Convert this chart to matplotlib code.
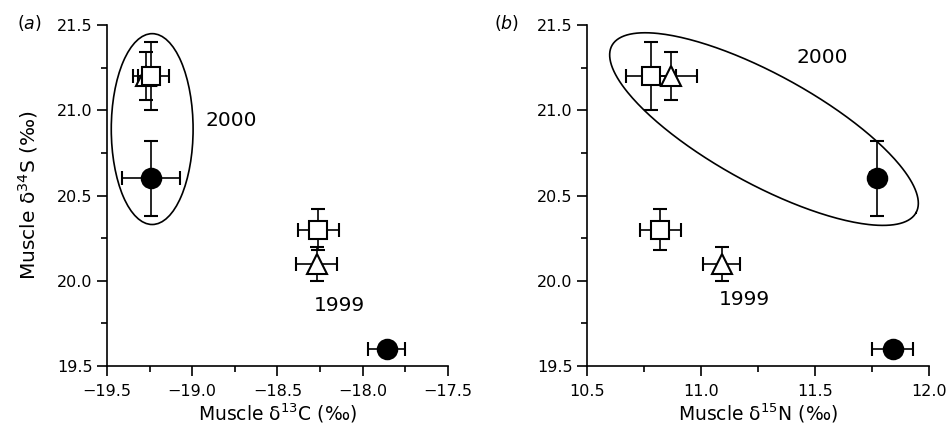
import matplotlib
matplotlib.use("Agg")
import matplotlib.pyplot as plt
from matplotlib.patches import Ellipse
from matplotlib.ticker import MultipleLocator, FuncFormatter
import numpy as np

plt.rcParams["font.family"] = ["DejaVu Sans"]
plt.rcParams["axes.unicode_minus"] = True

# marker order: open square, open triangle, filled circle
markers = ["s", "^", "o"]
face = ["white", "white", "black"]

# 1999 means and errors
s34_1999 = [20.30, 20.10, 19.60]
s34_1999_err = [0.12, 0.10, 0.03]
c13_1999 = [-18.26, -18.27, -17.86]
c13_1999_err = [0.12, 0.12, 0.11]
n15_1999 = [10.82, 11.09, 11.84]
n15_1999_err = [0.09, 0.08, 0.09]

# 2000 means and errors
s34_2000 = [21.20, 21.20, 20.60]
s34_2000_err = [0.20, 0.14, 0.22]
c13_2000 = [-19.24, -19.27, -19.24]
c13_2000_err = [0.105, 0.05, 0.17]
n15_2000 = [10.78, 10.87, 11.77]
n15_2000_err = [0.11, 0.11, 0.03]

# group outlines (centre, conjugate half-axes) in data units
ell_a = dict(xy=(-19.235, 20.89), width=0.48, height=1.12)
ell_b_centre = (11.276, 20.89)
ell_b_u = (0.667, -0.491)
ell_b_v = (0.117, 0.28)

LW = 1.2


def fmt_tick(v, pos):
    return f"{v:.1f}".replace("-", "\u2212")


def draw_points(ax, xs, xerr, ys, yerr, order):
    for i in order:
        ms = 13 if markers[i] == "s" else 14
        ax.errorbar(xs[i], ys[i], xerr=xerr[i], yerr=yerr[i],
                    fmt=markers[i], ms=ms, mfc=face[i], mec="black", mew=1.5,
                    ecolor="black", elinewidth=LW, capsize=5, capthick=LW,
                    zorder=3)


def style_axes(ax):
    for side in ["top", "right"]:
        ax.spines[side].set_visible(False)
    for side in ["left", "bottom"]:
        ax.spines[side].set_linewidth(LW)
    ax.yaxis.set_major_locator(MultipleLocator(0.5))
    ax.yaxis.set_minor_locator(MultipleLocator(0.25))
    ax.xaxis.set_major_locator(MultipleLocator(0.5))
    ax.xaxis.set_minor_locator(MultipleLocator(0.25))
    ax.xaxis.set_major_formatter(FuncFormatter(fmt_tick))
    ax.yaxis.set_major_formatter(FuncFormatter(fmt_tick))
    ax.tick_params(which="major", length=7, width=LW, labelsize=11.5)
    ax.tick_params(axis="x", which="major", pad=6)
    ax.tick_params(which="minor", length=4, width=LW)
    ax.set_ylim(19.5, 21.5)


fig = plt.figure(figsize=(9.47, 4.26), dpi=100)

# (a) d13C vs d34S
ax1 = fig.add_axes([0.113, 0.141, 0.360, 0.800])
style_axes(ax1)
ax1.set_xlim(-19.5, -17.5)
ax1.add_patch(Ellipse(fill=False, lw=LW, ec="black", zorder=2, **ell_a))
draw_points(ax1, c13_1999, c13_1999_err, s34_1999, s34_1999_err, [1, 0, 2])
draw_points(ax1, c13_2000, c13_2000_err, s34_2000, s34_2000_err, [1, 0, 2])
ax1.text(-18.77, 20.94, "2000", fontsize=14.5, ha="center", va="center")
ax1.text(-18.135, 19.855, "1999", fontsize=14.5, ha="center", va="center")
ax1.set_xlabel(r"Muscle δ$^{13}$C (‰)", fontsize=13.5, labelpad=2)
ax1.set_ylabel(r"Muscle δ$^{34}$S (‰)", fontsize=14.5, labelpad=12)
fig.text(0.018, 0.945, r"($\it{a}$)", fontsize=12.5, ha="left", va="center")

# (b) d15N vs d34S
ax2 = fig.add_axes([0.620, 0.141, 0.361, 0.800])
style_axes(ax2)
ax2.set_xlim(10.5, 12.0)
t = np.linspace(0, 2 * np.pi, 300)
ex = ell_b_centre[0] + ell_b_u[0] * np.cos(t) + ell_b_v[0] * np.sin(t)
ey = ell_b_centre[1] + ell_b_u[1] * np.cos(t) + ell_b_v[1] * np.sin(t)
ax2.plot(ex, ey, color="black", lw=LW, zorder=2)
draw_points(ax2, n15_1999, n15_1999_err, s34_1999, s34_1999_err, [0, 1, 2])
draw_points(ax2, n15_2000, n15_2000_err, s34_2000, s34_2000_err, [0, 1, 2])
ax2.text(11.53, 21.31, "2000", fontsize=14.5, ha="center", va="center")
ax2.text(11.19, 19.89, "1999", fontsize=14.5, ha="center", va="center")
ax2.set_xlabel(r"Muscle δ$^{15}$N (‰)", fontsize=13.5, labelpad=2)
fig.text(0.522, 0.945, r"($\it{b}$)", fontsize=12.5, ha="left", va="center")

fig.savefig("out.png", dpi=100)
